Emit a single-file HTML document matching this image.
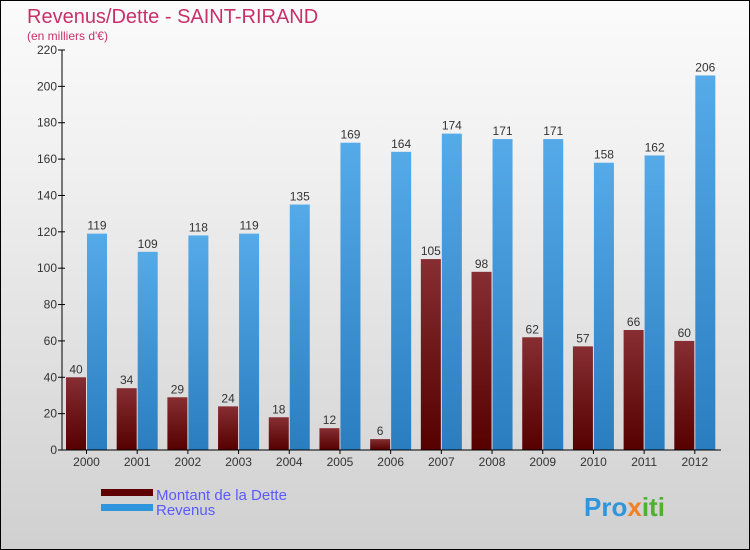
<!DOCTYPE html>
<html><head><meta charset="utf-8"><style>
body{margin:0}
#c{width:748px;height:548px;border:1px solid #000;background:linear-gradient(#fbfbfb,#f0f0f0 30%,#d0d0d0);position:relative;overflow:hidden;font-family:"Liberation Sans",sans-serif}
</style></head><body>
<div id="c">
<svg width="748" height="548" id="svg">
<defs>
<linearGradient id="gd" x1="0" y1="0" x2="0" y2="1"><stop offset="0" stop-color="#862e32"/><stop offset="1" stop-color="#560000"/></linearGradient>
<linearGradient id="gr" x1="0" y1="0" x2="0" y2="1"><stop offset="0" stop-color="#55aae8"/><stop offset="1" stop-color="#2a7dbf"/></linearGradient>
</defs>
<text x="26" y="22" font-size="20" fill="#c8306a">Revenus/Dette - SAINT-RIRAND</text>
<text x="26" y="39" font-size="12" fill="#c8306a">(en milliers d'€)</text>
<g id="g"></g>
<rect x="100" y="488" width="52" height="7" fill="#600000"/>
<rect x="100" y="503" width="52" height="7" fill="#2f95dc"/>
<text x="155" y="499" font-size="15" fill="#5a5aff">Montant de la Dette</text>
<text x="155" y="514" font-size="15" fill="#5a5aff">Revenus</text>
<text x="583" y="515" font-size="26" font-weight="bold" fill="#2f95dc">Pro<tspan fill="#f08020">x</tspan><tspan fill="#50b030">iti</tspan></text>
</svg>
</div>
<script>
const years=["2000","2001","2002","2003","2004","2005","2006","2007","2008","2009","2010","2011","2012"];
const debt=[40,34,29,24,18,12,6,105,98,62,57,66,60];
const revenue=[119,109,118,119,135,169,164,174,171,171,158,162,206];
const yTicks=[0,20,40,60,80,100,120,140,160,180,200,220];
const NS="http://www.w3.org/2000/svg";
const g=document.getElementById('g');
const x0=61,x1=720,yb=449,yt=49,ymax=220;
const step=(x1-x0)/years.length;
const Y=v=>yb-(v/ymax)*(yb-yt);
const X=i=>x0+i*step;
function mk(t,a){const e=document.createElementNS(NS,t);for(const k in a)e.setAttribute(k,a[k]);g.appendChild(e);return e;}
yTicks.forEach(v=>{
 const l=mk('line',{x1:x0-4,x2:x0+3,y1:Y(v),y2:Y(v),stroke:'#000'});
 
 
 const t=mk('text',{x:x0-5,y:Y(v)+4,'font-size':12,fill:'#333','text-anchor':'end'});t.textContent=v;
 
 
});
years.forEach((yr,i)=>{
 const bx=X(i);
 const d=mk('rect',{x:bx+4,y:Y(debt[i]),width:20,height:yb-Y(debt[i]),fill:'url(#gd)'});
 
 
 const r=mk('rect',{x:bx+25,y:Y(revenue[i]),width:20,height:yb-Y(revenue[i]),fill:'url(#gr)'});
 
 
 const dt=mk('text',{x:bx+14,y:Y(debt[i])-4,'font-size':12,fill:'#333','text-anchor':'middle'});dt.textContent=debt[i];
 
 
 const rt=mk('text',{x:bx+35,y:Y(revenue[i])-4,'font-size':12,fill:'#333','text-anchor':'middle'});rt.textContent=revenue[i];
 
 
 const tk=mk('line',{x1:bx+24.5,x2:bx+24.5,y1:yb,y2:yb+4,stroke:'#000'});
 
 
 const xt=mk('text',{x:bx+24.5,y:yb+16,'font-size':12,fill:'#333','text-anchor':'middle'});xt.textContent=yr;
 
 
});
const ya=mk('line',{x1:x0,x2:x0,y1:yt,y2:yb,stroke:'#000'});


const xa=mk('line',{x1:x0,x2:x1,y1:yb,y2:yb,stroke:'#000'});


</script>
</body></html>
